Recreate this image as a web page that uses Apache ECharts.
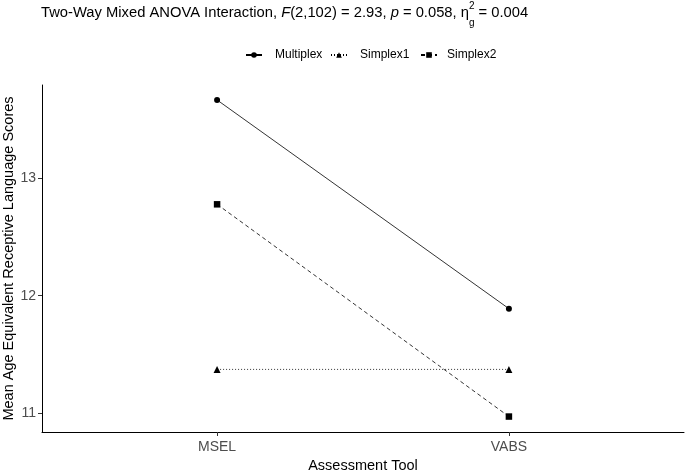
<!DOCTYPE html>
<html>
<head>
<meta charset="utf-8">
<script src="https://cdn.jsdelivr.net/npm/echarts@6/dist/echarts.min.js"></script>
<style>html,body{margin:0;padding:0;background:#fff;}#c{width:685px;height:471px;}</style>
</head>
<body>
<div id="c"></div>
<script>
const categories = ['MSEL', 'VABS'];
const seriesNames = ['Multiplex', 'Simplex1', 'Simplex2'];
const multiplex = [13.66, 11.89];
const simplex1 = [11.375, 11.375];
const simplex2 = [12.775, 10.975];
const yTicks = [11, 12, 13];

const FONT = '"Liberation Sans", Arial, sans-serif';
const TFS = 14.75;
const chart = echarts.init(document.getElementById('c'), null, {renderer: 'canvas'});

function toPts(arr) { return arr.map((v, i) => [i + 1, v]); }

// measure title pieces to place the stacked superscript
const cv = document.createElement('canvas').getContext('2d');
function mw(t, italic) { cv.font = (italic ? 'italic ' : '') + TFS + 'px ' + FONT; return cv.measureText(t).width; }
const tx0 = 41;
const etaX = tx0 + mw('Two-Way Mixed ANOVA Interaction, ') + mw('F', true) + mw('(2,102) = 2.93, ') + mw('p', true) + mw(' = 0.058, η');

const seriesStyles = [
  {symbol: 'circle', size: 6, type: 'solid'},
  {symbol: 'triangle', size: 7, type: [1, 2]},
  {symbol: 'rect', size: 6.5, type: [4, 3]}
];
const values = [multiplex, simplex1, simplex2];
const legendLefts = [245, 330, 420];
const legendPad = [8, 8, 5];

const option = {
  animation: false,
  backgroundColor: '#fff',
  grid: {left: 42, right: 1, top: 85, bottom: 39, containLabel: false, outerBoundsMode: 'none'},
  graphic: [
    {type: 'text', style: {
      x: tx0, y: 13, verticalAlign: 'middle', align: 'left',
      text: 'Two-Way Mixed ANOVA Interaction, {i|F}(2,102) = 2.93, {i|p} = 0.058, η{sub|g} = 0.004',
      font: TFS + 'px ' + FONT, fill: '#000',
      rich: {
        i: {fontStyle: 'italic', fontSize: TFS, fontFamily: FONT, fill: '#000'},
        sub: {fontSize: 10, fontFamily: FONT, fill: '#000', verticalAlign: 'bottom', lineHeight: 10, padding: [0, 0, -8, 0]}
      }
    }},
    {type: 'text', style: {x: etaX, y: 6, text: '2', font: '10px ' + FONT, fill: '#000', verticalAlign: 'middle', align: 'left'}}
  ],
  legend: seriesNames.map((n, i) => ({
    data: [n], left: legendLefts[i], top: 49, padding: 0, itemWidth: 16, itemHeight: 7,
    textStyle: {fontFamily: FONT, fontSize: 12, color: '#000', padding: [0, 0, 0, legendPad[i]]},
    selectedMode: false
  })),
  xAxis: {
    type: 'value', min: 0.4, max: 2.6,
    name: 'Assessment Tool', nameLocation: 'middle', nameGap: 25,
    nameTextStyle: {fontFamily: FONT, fontSize: 14.5, color: '#000'},
    axisLine: {show: true, lineStyle: {color: '#000', width: 1}},
    axisTick: {show: true, customValues: [1, 2], length: 4, lineStyle: {color: '#333'}},
    axisLabel: {customValues: [1, 2], formatter: v => categories[Math.round(v) - 1], fontFamily: FONT, fontSize: 14, color: '#4D4D4D', margin: 8},
    splitLine: {show: false}
  },
  yAxis: {
    type: 'value', min: 10.844, max: 13.787,
    name: 'Mean Age Equivalent Receptive Language Scores', nameLocation: 'middle', nameGap: 26,
    nameMoveOverlap: false,
    nameTextStyle: {fontFamily: FONT, fontSize: 14.5, color: '#000'},
    axisLine: {show: true, lineStyle: {color: '#000', width: 1}},
    axisTick: {show: true, customValues: yTicks, length: 4, lineStyle: {color: '#333'}},
    axisLabel: {customValues: yTicks, fontFamily: FONT, fontSize: 14, color: '#4D4D4D', margin: 6},
    splitLine: {show: false}
  },
  series: seriesNames.map((n, i) => ({
    name: n, type: 'line', data: toPts(values[i]),
    symbol: seriesStyles[i].symbol, symbolSize: seriesStyles[i].size, showSymbol: true,
    lineStyle: {color: '#000', width: 0.8, type: seriesStyles[i].type},
    itemStyle: {color: '#000'},
    emphasis: {disabled: true}
  }))
};
chart.setOption(option);
</script>
</body>
</html>
